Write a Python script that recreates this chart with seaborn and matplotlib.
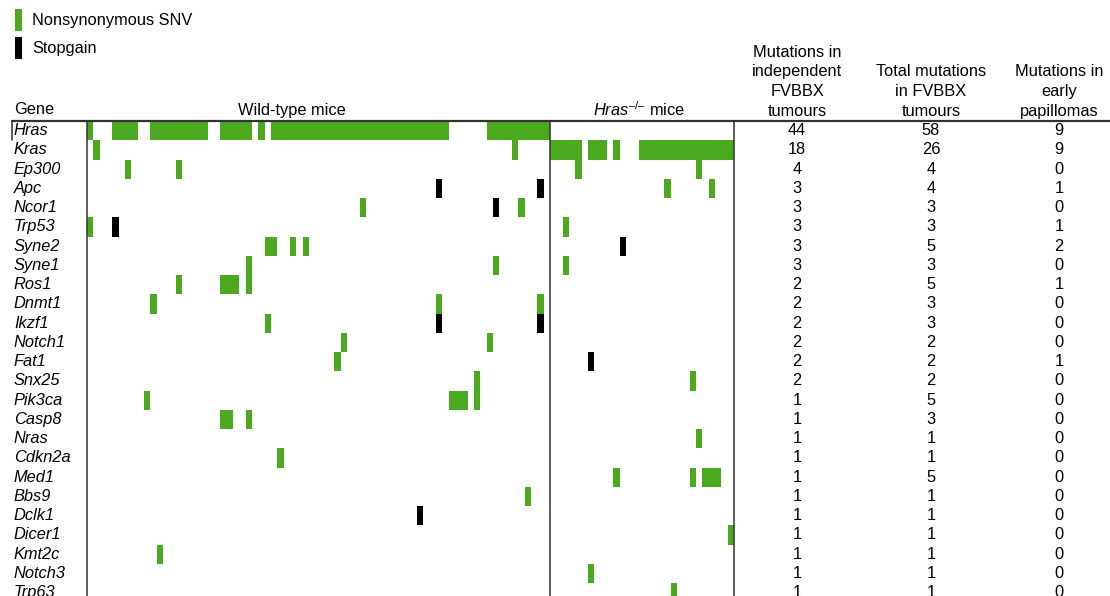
import numpy as np
import matplotlib
matplotlib.use("Agg")
import matplotlib.pyplot as plt
from matplotlib.colors import ListedColormap
from matplotlib.patches import Patch
from matplotlib.lines import Line2D
from matplotlib.transforms import blended_transform_factory
import seaborn as sns

# ---- data -------------------------------------------------------------
genes = ["Hras", "Kras", "Ep300", "Apc", "Ncor1", "Trp53", "Syne2", "Syne1",
         "Ros1", "Dnmt1", "Ikzf1", "Notch1", "Fat1", "Snx25", "Pik3ca", "Casp8",
         "Nras", "Cdkn2a", "Med1", "Bbs9", "Dclk1", "Dicer1", "Kmt2c", "Notch3",
         "Trp63"]

n_wildtype = 73      # tumours from wild-type mice
n_hras_null = 29     # tumours from Hras-/- mice

# tumour indices (0-based, wild-type first, then Hras-/-) carrying each mutation type
snv_tumours = {
    "Hras":   [0, 4, 5, 6, 7] + list(range(10, 19)) + list(range(21, 26)) + [27]
              + list(range(29, 57)) + list(range(63, 73)),
    "Kras":   [1, 67, 73, 74, 75, 76, 77, 79, 80, 81, 83] + list(range(87, 102)),
    "Ep300":  [6, 14, 77, 96],
    "Apc":    [91, 98],
    "Ncor1":  [43, 68],
    "Trp53":  [0, 75],
    "Syne2":  [28, 29, 32, 34],
    "Syne1":  [25, 64, 75],
    "Ros1":   [14, 21, 22, 23, 25],
    "Dnmt1":  [10, 55, 71],
    "Ikzf1":  [28],
    "Notch1": [40, 63],
    "Fat1":   [39],
    "Snx25":  [61, 95],
    "Pik3ca": [9, 57, 58, 59, 61],
    "Casp8":  [21, 22, 25],
    "Nras":   [96],
    "Cdkn2a": [30],
    "Med1":   [83, 95, 97, 98, 99],
    "Bbs9":   [69],
    "Dclk1":  [],
    "Dicer1": [101],
    "Kmt2c":  [11],
    "Notch3": [79],
    "Trp63":  [92],
}
stopgain_tumours = {
    "Apc":   [55, 71],
    "Ncor1": [64],
    "Trp53": [4],
    "Syne2": [84],
    "Ikzf1": [55, 71],
    "Fat1":  [79],
    "Dclk1": [52],
}

independent_counts = [44, 18, 4, 3, 3, 3, 3, 3, 2, 2, 2, 2, 2, 2, 1, 1, 1, 1, 1, 1,
                      1, 1, 1, 1, 1]
total_counts = [58, 26, 4, 4, 3, 3, 5, 3, 5, 3, 3, 2, 2, 2, 5, 3, 1, 1, 5, 1,
                1, 1, 1, 1, 1]
papilloma_counts = [9, 9, 0, 1, 0, 1, 2, 0, 1, 0, 0, 0, 1, 0, 0, 0, 0, 0, 0, 0,
                    0, 0, 0, 0, 0]

table_headers = ["Mutations in\nindependent\nFVBBX\ntumours",
                 "Total mutations\nin FVBBX\ntumours",
                 "Mutations in\nearly\npapillomas"]

# ---- matrix: 0 = none, 1 = nonsynonymous SNV, 2 = stopgain -------------
n_tumours = n_wildtype + n_hras_null
mat = np.zeros((len(genes), n_tumours))
for i, g in enumerate(genes):
    for t in snv_tumours.get(g, []):
        mat[i, t] = 1
    for t in stopgain_tumours.get(g, []):
        mat[i, t] = 2

# ---- style ------------------------------------------------------------
sns.set_style("white")
plt.rcParams["font.family"] = ["Liberation Sans", "DejaVu Sans"]
plt.rcParams["mathtext.fontset"] = "custom"
plt.rcParams["mathtext.rm"] = "Liberation Sans"
plt.rcParams["mathtext.it"] = "Liberation Sans:italic"
plt.rcParams["text.color"] = "black"
plt.rcParams["ytick.color"] = "black"
plt.rcParams["ytick.labelcolor"] = "black"

GREEN = "#4aa91f"
LINE = "#333333"
FS = 11.8

W, H = 1110, 596
fig = plt.figure(figsize=(W / 100, H / 100), dpi=100)


def fx(px):
    return px / W


def fy(py):
    return 1 - py / H


row_h = 19.25
grid_top = 121
grid_left, grid_right = 87, 734
ax = fig.add_axes([fx(grid_left), fy(grid_top + len(genes) * row_h),
                   (grid_right - grid_left) / W, len(genes) * row_h / H])

cmap = ListedColormap(["white", GREEN, "black"])
sns.heatmap(mat, ax=ax, cmap=cmap, vmin=0, vmax=2, cbar=False,
            xticklabels=False, yticklabels=genes, linewidths=0)

ax.tick_params(axis="y", length=0, pad=(grid_left - 14) * 0.72,
               labelcolor="black")
for lab in ax.get_yticklabels():
    lab.set_rotation(0)
    lab.set_ha("left")
    lab.set_fontstyle("italic")
    lab.set_fontsize(FS)

# group separators
for xv in (0, n_wildtype, n_tumours):
    ax.axvline(xv, color=LINE, lw=1.1, clip_on=False)

# outer rules of the table
fig.add_artist(Line2D([fx(12), fx(1112)], [fy(grid_top), fy(grid_top)],
                      transform=fig.transFigure, color=LINE, lw=1.6))
fig.add_artist(Line2D([fx(12), fx(12)], [fy(grid_top), fy(grid_top + row_h)],
                      transform=fig.transFigure, color=LINE, lw=1.1))

# column headers
fig.text(fx(14), fy(110), "Gene", ha="left", va="center", fontsize=FS)
fig.text(fx(292), fy(110), "Wild-type mice", ha="center", va="center",
         fontsize=FS)
fig.text(fx(639.5), fy(110), "$\\mathit{Hras}^{\\mathrm{\u2013/\u2013}}$ mice",
         ha="center", va="center", fontsize=FS)

# count table
col_x = [797, 931, 1059]
rows_tf = blended_transform_factory(fig.transFigure, ax.transData)
for cx, head, vals in zip(col_x, table_headers,
                          [independent_counts, total_counts, papilloma_counts]):
    fig.text(fx(cx), fy(119), head, ha="center", va="bottom",
             fontsize=FS, linespacing=1.4)
    for i, v in enumerate(vals):
        ax.text(fx(cx), i + 0.5, str(v), transform=rows_tf,
                ha="center", va="center", fontsize=FS, clip_on=False)

# legend
handles = [Patch(facecolor=GREEN, edgecolor="none"),
           Patch(facecolor="black", edgecolor="none")]
fig.legend(handles, ["Nonsynonymous SNV", "Stopgain"], loc="upper left",
           bbox_to_anchor=(fx(15), fy(9)), frameon=False, fontsize=FS,
           handlelength=0.4, handleheight=1.65, handletextpad=0.65,
           labelspacing=0.4, borderaxespad=0, borderpad=0)

fig.savefig("out.png", dpi=100)
